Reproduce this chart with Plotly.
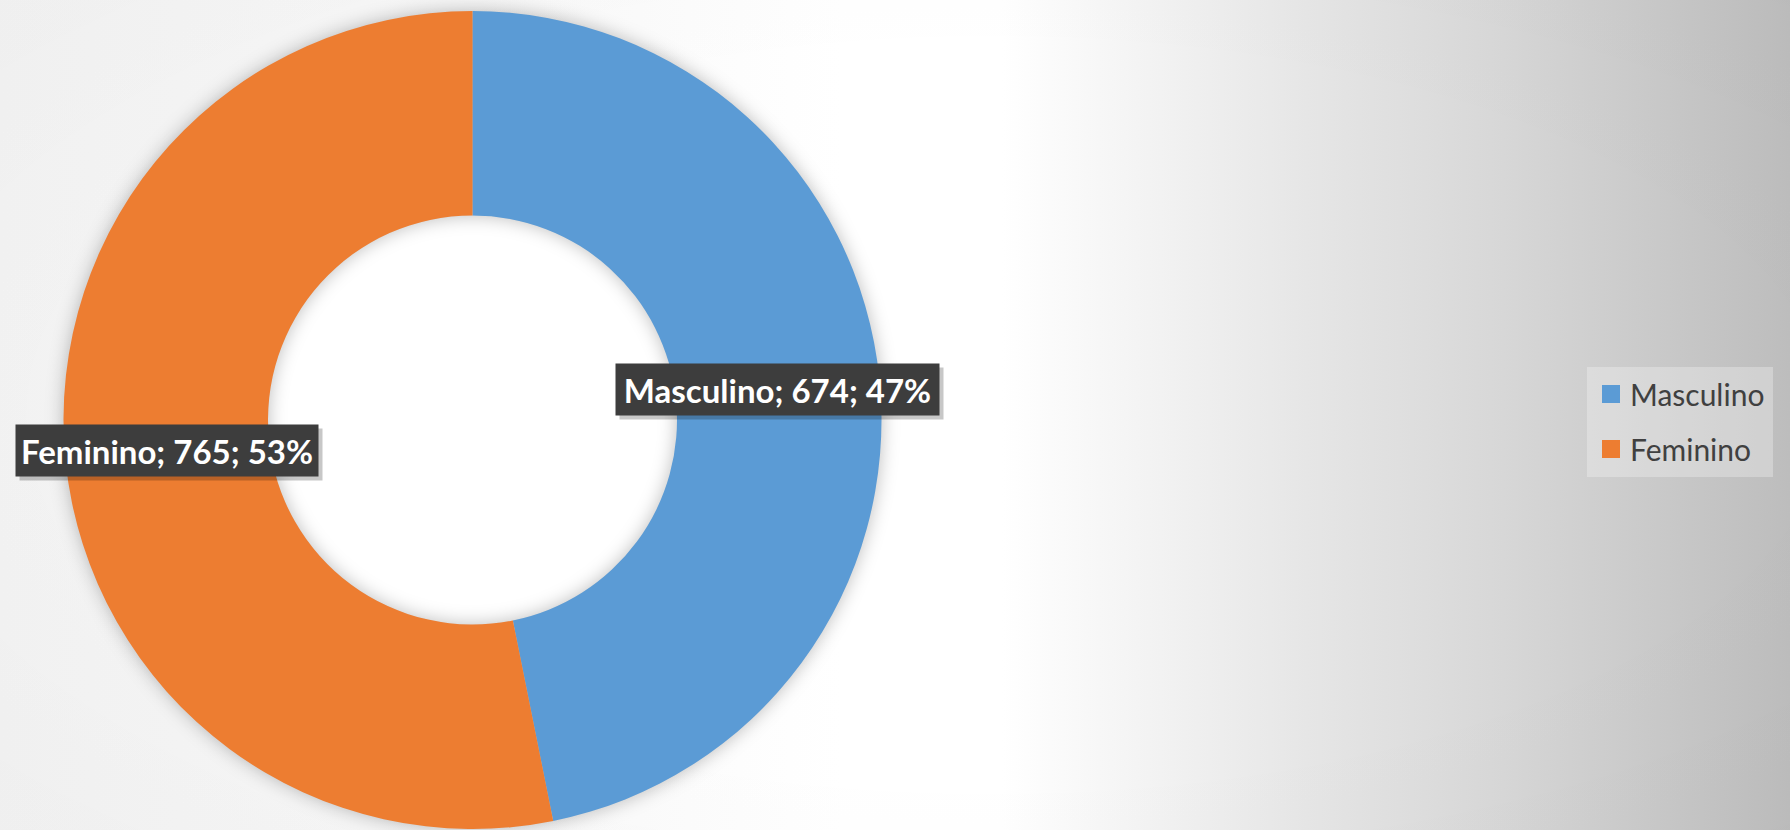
import base64
import math
import plotly.graph_objects as go

# ---- data ----
categories = ["Masculino", "Feminino"]
values = [674, 765]
colors = ["#5B9BD5", "#ED7D31"]

W, H = 1790, 830
CX, CY, R = 472.5, 420.0, 409.0   # donut centre / radius in px (from top-left)
HOLE = 0.5
RIN = R * HOLE
LABEL_BOX_W = [313, 292]          # inner width of each data-label box (px)
LABEL_BOX_H = 41

# ---- background gradient + soft donut shadow (svg data uri) ----
svg = f"""<svg xmlns='http://www.w3.org/2000/svg' width='{W}' height='{H}'>
<defs>
<linearGradient id='lg' x1='0' y1='0' x2='1' y2='0'>
<stop offset='0' stop-color='#f3f3f3'/>
<stop offset='0.3' stop-color='#f9f9f9'/>
<stop offset='0.47' stop-color='#ffffff'/>
<stop offset='0.56' stop-color='#ffffff'/>
<stop offset='0.73' stop-color='#e6e6e6'/>
<stop offset='0.84' stop-color='#d7d7d7'/>
<stop offset='1' stop-color='#bdbdbd'/>
</linearGradient>
<radialGradient id='rg' cx='0.55' cy='0.5' r='0.7'>
<stop offset='0' stop-color='#000' stop-opacity='0'/>
<stop offset='0.6' stop-color='#000' stop-opacity='0'/>
<stop offset='1' stop-color='#000' stop-opacity='0.015'/>
</radialGradient>
<filter id='blur' x='-20%' y='-20%' width='140%' height='140%'>
<feGaussianBlur stdDeviation='9'/>
</filter>
</defs>
<rect width='{W}' height='{H}' fill='url(#lg)'/>
<rect width='{W}' height='{H}' fill='url(#rg)'/>
<circle cx='{CX}' cy='{CY}' r='{RIN}' fill='#ffffff'/>
<circle cx='{CX}' cy='{CY}' r='{(R + RIN) / 2}' fill='none' stroke='#000' stroke-opacity='0.26'
 stroke-width='{R - RIN}' filter='url(#blur)'/>
</svg>"""
bg_uri = "data:image/svg+xml;base64," + base64.b64encode(svg.encode()).decode()

fig = go.Figure()
total = sum(values)

fig.add_trace(go.Pie(
    labels=categories, values=values, hole=HOLE,
    domain=dict(x=[(CX - R) / W, (CX + R) / W], y=[max(0.0, (H - CY - R) / H), min(1.0, (H - CY + R) / H)]),
    marker=dict(colors=colors, line=dict(width=0)),
    sort=False, direction="clockwise", rotation=0,
    textinfo="none", hoverinfo="label+value+percent", showlegend=False,
))

annotations = []
shapes = []

# data labels at the middle of each ring segment
cum = 0
rmid = (R + RIN) / 2
for cat, v, bw in zip(categories, values, LABEL_BOX_W):
    frac_mid = (cum + v / 2) / total
    cum += v
    ang = 2 * math.pi * frac_mid
    px = CX + rmid * math.sin(ang)
    py = CY - rmid * math.cos(ang)
    txt = f"<b>{cat}; {v}; {round(100 * v / total)}%</b>"
    base = dict(x=px / W, y=1 - py / H, xref="paper", yref="paper", showarrow=False,
                xanchor="center", yanchor="middle", borderpad=5, width=bw, height=LABEL_BOX_H)
    # drop shadow of the label box
    annotations.append(dict(base, text=" ", font=dict(family="Lato", size=33),
                            bgcolor="rgba(0,0,0,0.22)", xshift=4, yshift=-4))
    annotations.append(dict(base, text=txt, font=dict(family="Lato", size=33, color="#ffffff"),
                            bgcolor="#3d3d3d"))

# legend (box, colour squares, names)
LX0, LX1, LY0, LY1 = 1587, 1773, 367, 477
shapes.append(dict(type="rect", xref="paper", yref="paper", x0=LX0 / W, x1=LX1 / W,
                   y0=1 - LY1 / H, y1=1 - LY0 / H, fillcolor="rgba(255,255,255,0.28)",
                   line=dict(width=0), layer="below"))
item_y = [394, 449]
for cat, col, iy in zip(categories, colors, item_y):
    shapes.append(dict(type="rect", xref="paper", yref="paper", x0=1602 / W, x1=1620 / W,
                       y0=1 - (iy + 9) / H, y1=1 - (iy - 9) / H, fillcolor=col, line=dict(width=0)))
    annotations.append(dict(x=1628 / W, y=1 - iy / H, xref="paper", yref="paper", showarrow=False,
                            xanchor="left", yanchor="middle", text=cat,
                            font=dict(family="Lato", size=30, color="#404040")))

fig.update_layout(
    width=W, height=H,
    margin=dict(l=0, r=0, t=0, b=0),
    paper_bgcolor="#f5f5f5",
    plot_bgcolor="rgba(0,0,0,0)",
    images=[dict(source=bg_uri, xref="paper", yref="paper", x=0, y=1, sizex=1, sizey=1,
                 xanchor="left", yanchor="top", sizing="stretch", layer="below")],
    annotations=annotations,
    shapes=shapes,
    showlegend=False,
    font=dict(family="Lato"),
)

fig.write_html("out.html", config={"displayModeBar": False},
               post_script="document.body.style.margin='0';document.body.style.overflow='hidden';")
